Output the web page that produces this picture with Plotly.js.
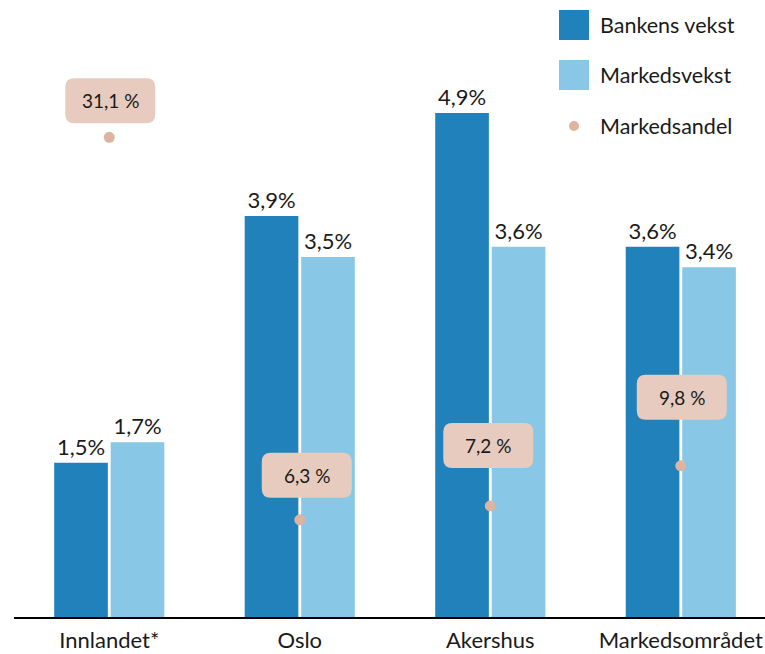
<!DOCTYPE html>
<html>
<head>
<meta charset="utf-8">
<script src="https://cdn.plot.ly/plotly-3.0.1.min.js"></script>
<style>html,body{margin:0;padding:0;background:#fff}#chart{width:765px;height:654px}</style>
</head>
<body>
<div id="chart"></div>
<script>
// ---- data ----
const categories = ["Innlandet*", "Oslo", "Akershus", "Markedsområdet"];
const bankensVekst = [1.5, 3.9, 4.9, 3.6];
const markedsvekst = [1.7, 3.5, 3.6, 3.4];
const markedsandel = [31.1, 6.3, 7.2, 9.8];
const seriesNames = ["Bankens vekst", "Markedsvekst", "Markedsandel"];

// ---- style ----
const C_DARK = "#2081BB", C_LIGHT = "#88C8E6", C_BOX = "#E6CBBE", C_DOT = "#DDB49F";
const FONT = "Lato, 'Open Sans', sans-serif";
const TXT = "#1a1a1a";
const fmt = (v, sp) => v.toFixed(1).replace(".", ",") + (sp ? " %" : "%");

// label box placement (pixels above the dot, horizontal nudge)
const boxLift = [14, 22, 38, 46];
const boxNudge = [1, 7, -2, 1];
const BW = 90, BH = 45, R = 9;

const W = 765, H = 654, ML = 14, MB = 37;
const PW = W - ML, PH = H - MB;
const px2x = p => (p - ML) / PW;
const px2y = p => (PH - p) / PH;

const traces = [
  {type: "bar", name: seriesNames[0], x: categories, y: bankensVekst,
   marker: {color: C_DARK}, text: bankensVekst.map(v => fmt(v)), textposition: "outside",
   textfont: {family: FONT, size: 22, color: TXT}, cliponaxis: false, hoverinfo: "skip"},
  {type: "bar", name: seriesNames[1], x: categories, y: markedsvekst,
   marker: {color: C_LIGHT}, text: markedsvekst.map(v => fmt(v)), textposition: "outside",
   textfont: {family: FONT, size: 22, color: TXT}, cliponaxis: false, hoverinfo: "skip"},
  {type: "scatter", mode: "markers", name: seriesNames[2], x: categories, y: markedsandel,
   yaxis: "y2", marker: {color: C_DOT, size: 11}, hoverinfo: "skip", cliponaxis: false}
];

function roundRect(x0, y0, x1, y1, r) {
  return `M ${x0 + r},${y0} L ${x1 - r},${y0} Q ${x1},${y0} ${x1},${y0 + r} L ${x1},${y1 - r} Q ${x1},${y1} ${x1 - r},${y1} L ${x0 + r},${y1} Q ${x0},${y1} ${x0},${y1 - r} L ${x0},${y0 + r} Q ${x0},${y0} ${x0 + r},${y0} Z`;
}

const shapes = [], annotations = [];
markedsandel.forEach((v, i) => {
  const dx = boxNudge[i], lift = boxLift[i];
  shapes.push({type: "path", xref: "x", yref: "y2", xsizemode: "pixel", ysizemode: "pixel",
    xanchor: i, yanchor: v, layer: "above",
    path: roundRect(dx - BW / 2, lift, dx + BW / 2, lift + BH, R),
    fillcolor: C_BOX, line: {width: 0}});
  annotations.push({xref: "x", yref: "y2", x: i, y: v, text: fmt(v, true), showarrow: false,
    xshift: dx, yshift: lift + BH / 2, font: {family: FONT, size: 19, color: TXT}});
});

// legend
const legY = [25, 75, 126];
[C_DARK, C_LIGHT].forEach((c, k) => {
  shapes.push({type: "rect", xref: "paper", yref: "paper",
    x0: px2x(559), x1: px2x(589), y0: px2y(legY[k] - 15), y1: px2y(legY[k] + 15),
    fillcolor: c, line: {width: 0}});
});
shapes.push({type: "circle", xref: "paper", yref: "paper",
  x0: px2x(569), x1: px2x(579), y0: px2y(legY[2] - 5), y1: px2y(legY[2] + 5),
  fillcolor: C_DOT, line: {width: 0}});
seriesNames.forEach((n, k) => {
  annotations.push({xref: "paper", yref: "paper", x: px2x(598), y: px2y(legY[k]),
    xanchor: "left", yanchor: "middle", text: n, showarrow: false,
    font: {family: FONT, size: 21.5, color: TXT}});
});

const layout = {
  width: W, height: H,
  margin: {l: ML, r: 0, t: 0, b: MB, pad: 0},
  paper_bgcolor: "#fff", plot_bgcolor: "#fff",
  showlegend: false,
  barmode: "group", bargap: 0.407, bargroupgap: 0.05,
  xaxis: {type: "category", range: [-0.5, 3.442], showline: true, linecolor: "#000", linewidth: 2,
    ticks: "", showgrid: false, zeroline: false, fixedrange: true, ticklabelstandoff: 3,
    tickfont: {family: FONT, size: 22, color: TXT}},
  yaxis: {range: [0, 6], visible: false, showgrid: false, zeroline: false, fixedrange: true},
  yaxis2: {range: [0, 40], overlaying: "y", side: "right", visible: false, showgrid: false, zeroline: false},
  shapes: shapes, annotations: annotations,
  font: {family: FONT, color: TXT}
};

Plotly.newPlot("chart", traces, layout, {displayModeBar: false, staticPlot: true});
</script>
</body>
</html>
